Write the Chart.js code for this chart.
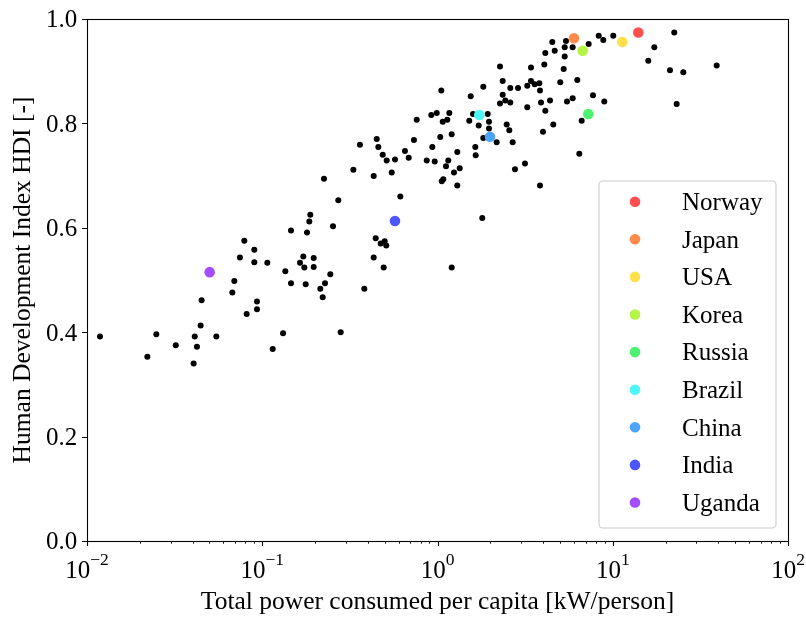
<!DOCTYPE html>
<html><head><meta charset="utf-8">
<script src="https://cdn.jsdelivr.net/npm/chart.js@4.4.0/dist/chart.umd.min.js"></script>
<style>html,body{margin:0;padding:0;background:#fff;}canvas{display:block;}</style>
</head><body>
<canvas id="c" width="806" height="617"></canvas>
<script>
// ---- data ----
const otherPower = [0.0790,0.0901,0.0746,0.0901,0.1069,0.0693,0.0675,0.0451,0.0933,0.0933,0.0815,0.0445,0.01186,0.02486,0.0412,0.0547,0.0321,0.0424,0.1147,0.0221,0.0406,
0.450,0.361,0.4595,0.487,0.513,0.572,0.331,0.4325,0.548,0.225,0.2716,0.6135,0.188,0.1856,0.1459,0.180,0.2533,0.444,0.474,0.4996,0.510,0.4325,0.4932,0.1715,0.1966,0.1642,0.1738,0.1966,0.1354,0.2445,0.1459,0.177,0.228,0.2144,0.3822,0.2213,0.1314,0.2803,1.205,
2.273,1.825,1.051,2.355,2.602,2.880,1.547,2.355,2.437,2.273,2.602,0.761,0.922,0.990,1.168,1.071,1.137,1.594,1.934,1.518,1.967,1.718,1.967,2.482,2.568,1.825,2.176,2.685,0.734,1.037,1.205,0.652,0.685,0.934,0.868,0.964,1.152,1.297,1.643,1.652,1.118,1.339,1.242,1.079,1.057,1.297,2.768,1.801,3.156,3.844,6.444,
22.44,8.316,8.831,10.07,4.519,5.410,7.289,5.319,5.907,4.664,4.122,5.319,17.26,15.95,21.21,25.27,39.19,3.416,4.068,5.249,3.253,3.416,3.586,3.809,3.844,5.018,6.277,3.253,3.895,4.385,4.122,5.482,5.907,7.712,8.947,23.16,6.648,4.578,3.999];
const otherHDI = [0.575,0.558,0.543,0.534,0.533,0.498,0.476,0.461,0.459,0.444,0.435,0.413,0.392,0.396,0.392,0.392,0.375,0.372,0.368,0.353,0.340,
0.770,0.759,0.755,0.740,0.729,0.731,0.711,0.699,0.706,0.694,0.653,0.660,0.625,0.612,0.595,0.591,0.603,0.580,0.570,0.574,0.566,0.543,0.524,0.545,0.542,0.533,0.524,0.525,0.517,0.511,0.494,0.492,0.494,0.483,0.483,0.467,0.398,0.400,0.524,
0.909,0.870,0.863,0.881,0.868,0.868,0.852,0.855,0.844,0.838,0.840,0.807,0.816,0.820,0.820,0.803,0.807,0.818,0.818,0.805,0.803,0.796,0.790,0.798,0.787,0.772,0.764,0.764,0.768,0.774,0.779,0.747,0.734,0.755,0.729,0.727,0.729,0.745,0.755,0.739,0.718,0.714,0.706,0.693,0.689,0.681,0.712,0.619,0.723,0.681,0.742,
0.974,0.968,0.960,0.968,0.956,0.958,0.952,0.946,0.946,0.939,0.935,0.928,0.946,0.920,0.902,0.898,0.911,0.907,0.913,0.904,0.872,0.881,0.875,0.877,0.863,0.879,0.883,0.831,0.840,0.844,0.824,0.842,0.848,0.854,0.842,0.837,0.805,0.798,0.784];
const countries = ['Norway','Japan','USA','Korea','Russia','Brazil','China','India','Uganda'];
const countryPower = [13.99,6.01,11.34,6.74,7.25,1.732,1.993,0.572,0.0501];
const countryHDI = [0.974,0.963,0.956,0.939,0.818,0.816,0.7745,0.613,0.515];
const countryColors = ['#ff4f4f','#ff8a4a','#ffe04a','#b4f545','#4cf270','#4ef7f5','#4da4ff','#4d55ff','#a24dff'];
const xTickExps = [-2,-1,0,1,2];
const yTicks = [0.0,0.2,0.4,0.6,0.8,1.0];
const xTitle = 'Total power consumed per capita [kW/person]';
const yTitle = 'Human Development Index HDI [-]';

// ---- chart ----
const FF = "'Liberation Serif','Times New Roman',serif";
const FS = 25;
const FT = 25.5;
const datasets = [{
  label: '',
  data: otherPower.map((x,i)=>({x:x,y:otherHDI[i]})),
  backgroundColor:'#000', pointRadius:3, pointBorderWidth:0, order:1
}];
countries.forEach((c,i)=>{
  datasets.push({label:c, data:[{x:countryPower[i], y:countryHDI[i]}],
    backgroundColor:countryColors[i], pointRadius:5.3, pointBorderWidth:0, order:0});
});

const decor = {
  id:'decor',
  afterDraw(chart){
    const ctx = chart.ctx, ca = chart.chartArea;
    const xs = chart.scales.x, ys = chart.scales.y;
    ctx.save();
    ctx.strokeStyle='#000'; ctx.fillStyle='#000';
    // ticks
    ctx.lineWidth = 1.1;
    ctx.beginPath();
    xTickExps.forEach(e=>{
      const px = Math.round(xs.getPixelForValue(Math.pow(10,e)))+0.5;
      ctx.moveTo(px, ca.bottom); ctx.lineTo(px, ca.bottom+4.9);
    });
    yTicks.forEach(v=>{
      const py = Math.round(ys.getPixelForValue(v))+0.5;
      ctx.moveTo(ca.left, py); ctx.lineTo(ca.left-4.9, py);
    });
    ctx.stroke();
    ctx.lineWidth = 0.85;
    ctx.beginPath();
    for (let e=-2;e<2;e++){
      for (let m=2;m<=9;m++){
        const px = Math.round(xs.getPixelForValue(m*Math.pow(10,e)))+0.5;
        ctx.moveTo(px, ca.bottom); ctx.lineTo(px, ca.bottom+2.8);
      }
    }
    ctx.stroke();
    // frame
    ctx.lineWidth = 1.1;
    ctx.strokeRect(Math.round(ca.left)+0.5, Math.round(ca.top)+0.5, Math.round(ca.right-ca.left), Math.round(ca.bottom-ca.top));
    // y tick labels
    ctx.font = FS+'px '+FF;
    ctx.textAlign='right'; ctx.textBaseline='alphabetic';
    yTicks.forEach(v=>{
      const py = ys.getPixelForValue(v);
      ctx.fillText(v.toFixed(1), ca.left-9.7, py+8.3);
    });
    // x tick labels 10^e
    xTickExps.forEach(e=>{
      const px = xs.getPixelForValue(Math.pow(10,e));
      const base='10', sup=(e<0?'\u2212':'')+Math.abs(e);
      ctx.font = FS+'px '+FF;
      const wb = ctx.measureText(base).width;
      ctx.font = (FS*0.7)+'px '+FF;
      const ws = ctx.measureText(sup).width;
      const x0 = px-(wb+ws)/2;
      ctx.textAlign='left';
      ctx.font = FS+'px '+FF;
      ctx.fillText(base, x0, ca.bottom+37);
      ctx.font = (FS*0.7)+'px '+FF;
      ctx.fillText(sup, x0+wb, ca.bottom+24);
    });
    // axis titles
    ctx.font = FT+'px '+FF;
    ctx.textAlign='center';
    ctx.fillText(xTitle, (ca.left+ca.right)/2, ca.bottom+68);
    ctx.save();
    ctx.translate(29.5, (ca.top+ca.bottom)/2);
    ctx.rotate(-Math.PI/2);
    ctx.fillText(yTitle, 0, 0);
    ctx.restore();
    // legend
    const items = chart.data.datasets.filter(d=>d.label);
    const w=177, h=347;
    const lx = ca.right-12-w, ly = ca.bottom-13-h, r=4;
    ctx.beginPath();
    ctx.moveTo(lx+r, ly);
    ctx.lineTo(lx+w-r, ly); ctx.arcTo(lx+w, ly, lx+w, ly+r, r);
    ctx.lineTo(lx+w, ly+h-r); ctx.arcTo(lx+w, ly+h, lx+w-r, ly+h, r);
    ctx.lineTo(lx+r, ly+h); ctx.arcTo(lx, ly+h, lx, ly+h-r, r);
    ctx.lineTo(lx, ly+r); ctx.arcTo(lx, ly, lx+r, ly, r);
    ctx.closePath();
    ctx.fillStyle='rgba(255,255,255,0.8)'; ctx.fill();
    ctx.strokeStyle='#cccccc'; ctx.lineWidth=1.1; ctx.stroke();
    ctx.textAlign='left';
    items.forEach((d,i)=>{
      const cy = ly+20.7+i*37.6;
      ctx.beginPath(); ctx.arc(lx+36, cy, 5.3, 0, Math.PI*2);
      ctx.fillStyle=d.backgroundColor; ctx.fill();
      ctx.fillStyle='#000';
      ctx.font = FS+'px '+FF;
      ctx.fillText(d.label, lx+83, cy+8.3);
    });
    ctx.restore();
  }
};

new Chart(document.getElementById('c'), {
  type:'scatter',
  data:{datasets:datasets},
  options:{
    responsive:false, animation:false, devicePixelRatio:1,
    layout:{padding:{left:87,right:18,top:19,bottom:76}},
    scales:{
      x:{type:'logarithmic', min:0.01, max:100, display:false},
      y:{type:'linear', min:0, max:1, display:false}
    },
    plugins:{legend:{display:false}, tooltip:{enabled:false}}
  },
  plugins:[decor]
});
</script>
</body></html>
